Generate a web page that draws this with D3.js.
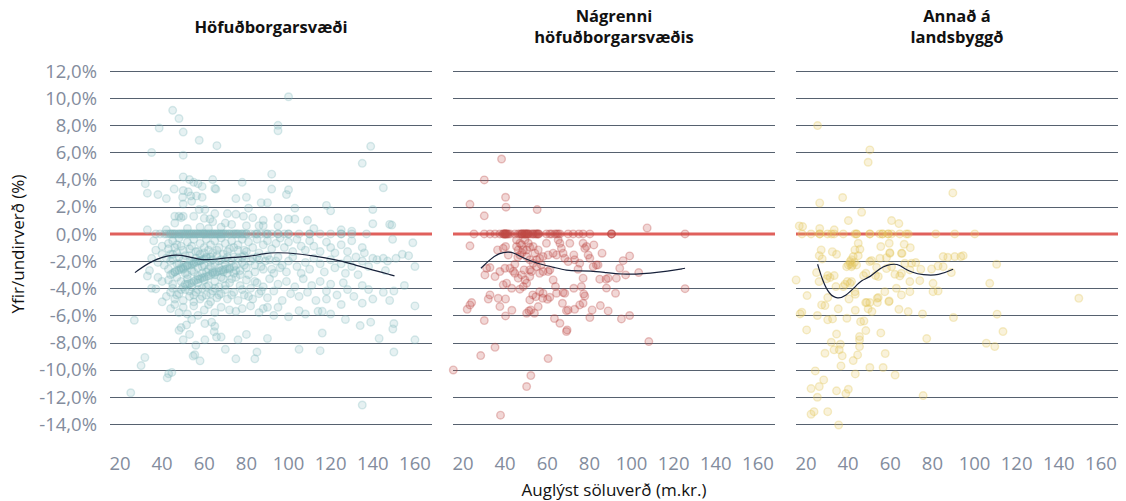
<!DOCTYPE html>
<html><head><meta charset="utf-8">
<script src="https://cdn.jsdelivr.net/npm/d3@7"></script>
<style>
html,body{margin:0;padding:0;background:#fff;}
svg{display:block;font-family:"Open Sans","Noto Sans",sans-serif;}
</style></head>
<body><svg id="chart" width="1126" height="501"></svg>
<script>
// ---------- DATA ----------
const panelTitles = [["Höfuðborgarsvæði"], ["Nágrenni","höfuðborgarsvæðis"], ["Annað á","landsbyggð"]];
const yTicks = [12,10,8,6,4,2,0,-2,-4,-6,-8,-10,-12,-14];
const xTicks = [20,40,60,80,100,120,140,160];
const yTitle = "Yfir/undirverð (%)";
const xTitle = "Auglýst söluverð (m.kr.)";

// Höfuðborgarsvæði [verð, frávik %]
const capitalPoints = [
[45,9.1],[48,8.5],[38.6,7.8],[50,7.5],[57.6,6.9],[66,6.5],[35,6.0],[50,5.8],[32,3.7],[33,3.0],[38,2.9],[42,2.6],[45.7,3.3],[50,4.2],[53,4.0],[55,3.8],[57,3.7],[59,3.5],[50,3.2],[52.4,3.1],[49.7,2.7],[53.6,2.8],[56.3,2.8],[59,2.7],[50,2.2],[54,2.4],[64,4.0],[65.5,3.3],[65,3.35],[78,3.8],[75,2.6],[80,2.7],[87,2.3],[90,2.3],[92,4.4],[92,3.3],[81,1.9],[57.6,1.8],[60.3,1.8],[46,1.3],[48,1.3],[50,1.3],[49,1.2],[55,1.3],[60,1.15],[62.7,1.1],[65,1.5],[71,1.5],[75,1.45],[78.6,1.3],[83,1.2],[64,0.9],[70,0.8],[73,0.7],[80,0.6],[86,0.6],[88,0.6],[33,0.3],[42,0.3],[46,0.8],[52,0.4],[58,0.5],[62,0.4],[68,0.5],
[100,10.1],[95,8.0],[95,7.6],[139,6.45],[135,5.2],[145,3.4],[100,3.25],[99,2.9],[103,1.9],[118,2.1],[120,1.7],[140,1.8],[95,1.2],[100,1.1],[103,1.1],[109,1.0],[95,0.6],[140,0.75],[148,0.7],[149,0.65],[88,1.0],[112,0.4],[125,0.3],[130,0.2],
[37,0],[39,0],[41,0],[42,0],[43,0],[44,0],[45,0],[46,0],[47,0],[48,0],[49,0],[50,0],[51,0],[52,0],[53,0],[54,0],[55,0],[56,0],[57,0],[58,0],[59,0],[60,0],[61,0],[62,0],[63,0],[64,0],[65,0],[66,0],[67,0],[68,0],[69,0],[70,0],[71,0],[72,0],[73,0],[74,0],[75,0],[76,0],[77,0],[78,0],[79,0],[80,0],[82,0],[84,0],[85,0],[87,0],[89,0],[90,0],[92,0],[95,0],[98,0],[100,0],[105,0],[110,0],[115,0],[120,0],[125,0],[130,0],[137,0],[50,0],[55,0],[60,0],[65,0],[45,0],[70,0],[75,0],[80,0],[110,0],[125,0],[60,0],[58,0],[52,0],
[44,0],[46,0],[48,0],[49,0],[51,0],[53,0],[54,0],[56,0],[57,0],[59,0],[61,0],[62,0],[63,0],[64,0],[66,0],[67,0],[68,0],[69,0],[72,0],[74,0],[76,0],[78,0],[85,0],[90,0],[100,0],[95,0],
[36,-0.5],[40,-0.9],[43,-1.1],[45,-0.5],[47,-0.8],[48,-0.3],[50,-1.2],[52,-0.6],[54,-0.9],[55,-0.4],[57,-1.3],[58,-0.7],[60,-1.0],[61,-0.4],[63,-0.8],[64,-1.4],[65,-0.5],[67,-1.0],[68,-0.3],[70,-0.7],[71,-1.3],[73,-0.5],[74,-1.0],[76,-0.8],[78,-0.4],[79,-1.2],[81,-0.6],[83,-1.0],[85,-0.4],[86,-1.4],[88,-0.8],[90,-0.5],[92,-1.1],[94,-0.7],[96,-0.3],[98,-1.0],[100,-0.6],[102,-1.3],[104,-0.4],[106,-0.9],[108,-1.2],[110,-0.5],[112,-0.9],[115,-1.3],[118,-0.6],[120,-1.0],[122,-1.4],[125,-0.8],[128,-1.3],[130,-0.5],[135,-1.0],[149.4,-0.4],[159,-0.65],[136,-1.4],[140,-1.8],[145,-1.8],[151,-1.8],[154,-1.5],[128,-1.9],[132,-1.7],[147,-2.0],
[35,-1.8],[37,-1.2],[38,-2.1],[40,-1.5],[41,-2.3],[42,-1.8],[43,-2.6],[44,-2.0],[45,-1.5],[46,-2.8],[47,-2.2],[48,-1.7],[49,-2.5],[50,-1.9],[51,-2.9],[52,-2.3],[53,-1.6],[54,-2.7],[55,-2.1],[56,-1.8],[57,-2.5],[58,-2.0],[59,-2.9],[60,-2.3],[61,-1.7],[62,-2.6],[63,-2.0],[64,-2.8],[65,-2.2],[66,-1.6],[67,-2.5],[68,-1.9],[69,-2.8],[70,-2.2],[71,-1.7],[72,-2.6],[73,-2.0],[74,-2.9],[75,-2.3],[76,-1.8],[77,-2.7],[78,-2.1],[79,-1.6],[80,-2.5],[82,-2.0],[84,-2.8],[85,-1.7],[87,-2.4],[89,-2.0],[90,-1.6],[92,-2.6],[94,-2.0],[95,-1.7],[97,-2.3],[99,-2.8],[100,-2.0],[102,-1.7],[104,-2.4],[106,-2.9],[108,-2.1],[110,-2.6],[112,-1.8],[115,-2.2],[117,-2.8],[120,-1.9],[122,-2.5],[125,-2.2],[127,-2.9],[130,-2.4],[133,-3.0],[135,-2.0],[138,-2.4],[142,-1.9],[146,-2.7],[157,-1.6],[160,-2.4],
[43,-0.7],[44,-1.5],[45,-1.9],[46,-1.0],[47,-1.4],[48,-2.2],[49,-0.9],[50,-2.6],[51,-1.6],[52,-3.0],[53,-1.1],[54,-2.0],[55,-2.8],[56,-1.3],[57,-3.1],[58,-1.5],[59,-2.4],[60,-1.4],[61,-2.8],[62,-1.2],[63,-2.4],[64,-1.9],[65,-3.0],[66,-1.2],[67,-2.0],[68,-3.2],[69,-1.5],[70,-1.9],[71,-2.9],[72,-1.1],[73,-3.3],[74,-1.7],[75,-2.7],[76,-1.2],[77,-3.0],[78,-1.7],[79,-2.3],[80,-1.3],[81,-3.0],[83,-1.8],[84,-2.3],[86,-1.9],[88,-2.6],[91,-1.9],[93,-2.9],[96,-2.5],
[45,-2.9],[47,-2.7],[49,-2.6],[51,-2.4],[53,-2.3],[55,-2.2],[57,-2.0],[59,-1.9],[61,-1.8],[63,-1.7],[50,-3.9],[52,-3.7],[54,-3.6],[56,-3.4],[58,-3.3],[60,-3.2],[62,-3.1],[64,-2.9],[66,-2.8],[68,-2.7],[70,-2.6],[72,-2.5],[74,-2.4],
[44,-3.0],[46,-2.8],[48,-2.65],[50,-2.5],[52,-2.35],[54,-2.25],[56,-2.1],[58,-1.95],[60,-1.85],[53,-3.65],[55,-3.5],[57,-3.35],[59,-3.25],[61,-3.15],[63,-3.0],[65,-2.85],[67,-2.75],[69,-2.65],[71,-2.55],
[33,-3.1],[34,-2.7],[35,-4.0],[37,-4.05],[38,-3.2],[40,-3.5],[40,-5.0],[42,-4.6],[43,-3.4],[44,-4.3],[45,-3.7],[46,-4.8],[47,-3.2],[48,-4.4],[49,-3.5],[50,-4.9],[51,-4.1],[52,-3.3],[53,-4.6],[54,-3.9],[55,-5.0],[56,-4.3],[57,-3.6],[58,-4.8],[59,-4.0],[60,-3.4],[61,-4.5],[62,-3.8],[63,-5.0],[64,-4.2],[65,-3.5],[66,-4.7],[67,-3.9],[68,-4.4],[69,-3.3],[70,-4.1],[71,-4.8],[72,-3.6],[74,-4.3],[75,-3.2],[76,-4.9],[77,-3.8],[79,-4.5],[80,-3.4],[82,-4.0],[83,-4.8],[85,-3.6],[86,-4.4],[88,-3.9],[90,-4.7],[91,-3.3],[93,-4.2],[95,-3.7],[97,-4.9],[99,-3.5],[101,-4.4],[103,-3.9],[105,-4.6],[107,-3.3],[109,-4.3],[111,-3.8],[113,-4.9],[115,-3.5],[118,-4.2],[120,-3.7],[123,-4.5],[126,-3.6],[128,-4.1],[131,-4.6],[135,-3.8],[138,-4.1],[140,-4.8],[145,-4.3],[150,-4.2],[155,-3.8],[148,-4.9],[160,-5.3],[135,-5.1],[125,-5.2],[116,-5.7],[114,-5.7],[108,-5.9],[105,-5.65],[93,-6.0],[90,-5.4],[88,-5.5],[118,-4.8],
[45,-4.0],[47,-4.5],[49,-4.1],[51,-3.7],[53,-4.2],[55,-4.5],[57,-4.1],[59,-4.6],[61,-3.9],[63,-4.4],[65,-4.0],[67,-4.5],[70,-3.8],[73,-4.5],[78,-4.1],[81,-4.6],[84,-3.5],[87,-4.2],
[26.8,-6.36],[48,-7.1],[49,-6.9],[50,-7.8],[53,-7.4],[54,-6.3],[51.6,-6.7],[55.5,-8.9],[56,-8.2],[58,-9.35],[54.7,-9.0],[60.3,-7.8],[60.3,-6.6],[63.5,-6.5],[65,-6.8],[64.7,-7.2],[65.8,-7.6],[68,-7.6],[70,-8.5],[76,-7.8],[80,-7.4],[75,-9.2],[84,-9.2],[85,-8.7],[90,-7.7],[44,-5.5],[46,-5.2],[48,-5.8],[50,-5.4],[52,-5.9],[55,-5.3],[57,-6.0],[60,-5.6],[62,-5.2],[65,-5.8],[68,-5.4],[72,-5.6],[75,-5.7],[78,-5.5],[82,-5.3],[86,-5.8],[95,-5.4],[105,-8.5],[115,-8.6],[150,-8.7],[143,-7.7],[160,-7.8],[116,-7.3],[134,-6.75],[139,-6.5],[150,-6.6],[149.5,-7.0],[127,-6.3],[120,-5.9],[100,-6.1],
[31.8,-9.1],[30,-9.7],[44.6,-10.2],[43.1,-10.3],[42.4,-10.6],[25.1,-11.7],[135,-12.6]
];
const capitalTrend = [[27.1,-2.85],[35,-1.95],[45.3,-1.47],[52,-1.65],[59.5,-1.96],[66,-1.85],[73.7,-1.72],[81.6,-1.67],[88,-1.45],[94.3,-1.35],[105.3,-1.47],[113,-1.65],[121.1,-1.86],[129,-2.15],[136.9,-2.53],[150.3,-3.09]];

// Nágrenni höfuðborgarsvæðis
const nearbyPoints = [
[38.3,5.52],[30.1,3.98],[23.3,2.18],[40.2,2.7],[40.4,1.97],[55.2,1.79],[30.1,1.33],[107.4,0.44],
[25.2,0],[30.1,0],[32.8,0],[35.2,0],[37.5,0],[39.1,0],[39.9,0],[40.7,0],[42.3,0],[44.6,0],[46.2,0],[47.8,0],[49.4,0],[50.2,0],[51,0],[53.3,0],[54.6,0],[55.7,0],[59.6,0],[61.2,0],[63.6,0],[64.4,0],[65.2,0],[66,0],[69.9,0],[72.3,0],[77,0],[80.2,0],[90.5,0],[125.4,0],[39,0],[40,0],[41,0],[47,0],[48,0],[49,0],[50,0],[51,0],[53,0],[55,0],[90.5,0],[39.5,0],[48.5,0],[54,0],
[40,0],[40.5,0],[41.5,0],[48,0],[49.5,0],[50.5,0],[52,0],[55.5,0],[56,0],[62,0],[75,0],[90.5,0],
[23.3,-0.88],[15.4,-10.02],[28.4,-8.96],[35.2,-8.35],[30.1,-6.38],[22,-5.55],[23.3,-5.23],[24.1,-5.06],[32,-4.79],[40.2,-4.79],[40.2,-6.04],[43.2,-5.62],[50.2,-5.84],[51.3,-5.67],[52.2,-5.6],[50.2,-11.24],[52.2,-10.43],[37.8,-13.35],[60.4,-9.18],[108.2,-7.93],
[30.4,-3.02],[32.8,-2.48],[35.2,-3.14],[37.5,-2.77],[39.9,-2.53],[39.1,-3.75],[40.7,-3.63],[43.1,-4.0],[43.9,-2.75],[44.6,-2.23],[47,-1.55],[46.2,-1.18],[45.4,-0.44],[47.8,-0.8],[49.4,-0.44],[51,-0.69],[50.2,-1.18],[51.7,-0.98],[53.3,-0.93],[54.1,-1.42],[55.7,-1.18],[56.4,-1.79],[58,-1.67],[53.3,-2.16],[54.9,-2.41],[51.7,-3.14],[49.4,-3.39],[47.8,-3.02],[48.6,-3.88],[47,-4.07],[50.2,-3.63],[52.5,-2.77],[56.4,-2.9],[58,-2.77],[60.4,-2.77],[59.6,-0.69],[60.4,-1.55],[62.8,-1.42],[64.4,-1.55],[66,-0.69],[65.2,-0.44],[66.7,-1.06],[67.5,-1.42],[68.3,-1.79],[69.9,-2.04],[70.7,-0.69],[72.6,-1.55],[73,-1.91],[74.6,-2.6],[75.4,-2.16],[77,-0.69],[77.8,-1.06],[78.6,-0.93],[79.4,-1.55],[80.2,-1.79],[82.1,-0.81],[83.3,-2.28],[86,-1.42],[84.1,-2.28],[77,-3.26],[81.8,-2.41],[88.9,-3.26],[87.9,-3.33],[92.8,-3.26],[94.4,-2.53],[96,-1.97],[97.2,-3.02],[99.1,-1.62],[103.4,-2.85],
[88.1,-3.99],[92.4,-4.37],[85.2,-5.28],[88.9,-5.67],[95.2,-6.26],[99.1,-6.01],[80.2,-6.16],[77,-5.11],[76.2,-3.88],[72.6,-4.0],[67.5,-4.32],[64.4,-4.37],[63.9,-3.88],[61.2,-4.67],[60.1,-4.81],[58,-4.37],[56.4,-4.25],[54.6,-4.62],[53.1,-4.49],[51.7,-4.86],[53.9,-5.84],[55.7,-5.35],[57.8,-4.74],[63.4,-6.23],[66,-6.58],[67.2,-5.11],[69.1,-5.65],[68.3,-4.37],[69.1,-7.19],[69.4,-7.07],[69.9,-5.6],[73,-5.55],[75.4,-5.23],[77.8,-4.57],[77.3,-4.42],[84.9,-3.33],[81.3,-5.6],
[32.8,-4.49],[31.2,-2.53],[36.4,-1.18],[39.1,-1.06],[41.5,-1.55],[42.3,-2.53],[44.6,-2.9],[46.2,-3.26],[49,-2.65],[51.7,-2.65],[54.9,-1.91],[57.2,-2.28],[61.2,-2.65],[62.8,-3.39],[40.2,-0.93],[45.4,-0.93],[47,-0.69],[48.6,-1.18],[50.2,-1.67],[51.7,-1.91],[48,-1.4],[46,-1.7],[125.4,-4.03],[36.7,-4.74],[37.5,-5.35]
];
const nearbyTrend = [[28.5,-2.53],[33,-1.85],[37,-1.42],[41.5,-1.3],[44.5,-1.4],[47.8,-1.72],[53,-2.05],[58.1,-2.28],[63,-2.45],[69.1,-2.7],[75,-2.72],[80.2,-2.72],[88,-2.85],[96,-2.97],[102,-2.97],[108.6,-2.9],[117,-2.75],[125.4,-2.53]];

// Annað á landsbyggð
const ruralPoints = [
[25.5,7.98],[50.3,6.19],[49.5,5.28],[89.7,3.02],[26.5,2.28],[37.4,2.68],[46.4,1.6],[40.1,0.98],[60.6,0.98],[64.1,0.76],[16.8,0.59],[18.4,0.54],[26.5,0.4],[33.4,0.3],
[18.1,0],[22.4,0],[26.5,0],[30.2,0],[32.1,0],[33.4,0],[37.7,0],[43.2,0],[44,0],[50.3,0],[55,0],[56.3,0],[59,0],[60.6,0],[64.5,0],[67.6,0],[68.5,0],[81.6,0],[90.6,0],[100.1,0],[26.5,0],[44,0],[50.3,0],[56.3,0],[59,0],
[27.2,-1.18],[26.3,-1.6],[27.7,-1.84],[32.5,-1.31],[34.5,-1.5],[25,-2.85],[26.2,-3.51],[15.3,-3.39],[30.3,-3.07],[31.4,-3.21],[33.4,-3.07],[29.8,-3.31],[34.2,-3.88],[37.7,-3.88],[20.5,-4.54],[18,-5.77],[17.2,-5.89],[25.4,-6.01],[27.4,-5.23],[29,-5.28],[35.3,-5.52],[30.3,-4.69],[30.3,-6.33],[32.6,-6.26],[39.4,-6.21],[34.5,-7.37],[20.3,-7.07],[32,-7.98],[36.3,-8.13],[33.3,-8.54],[35.8,-8.54],[37.2,-8.98],[29,-8.79],[36.6,-9.72],[43.4,-10.31],[42.4,-9.33],[44.5,-8.91],[24.4,-10.09],[28.4,-10.75],[26.3,-11.24],[22.4,-11.39],[25.4,-12.03],[34.5,-11.56],[38.9,-11.76],[40.1,-11.44],[23.8,-13.09],[22.4,-13.28],[30.3,-13.09],[35.5,-14.07],
[50.3,-9.84],[56.6,-9.84],[62.3,-10.39],[57.6,-8.81],[55.5,-7.29],[48.4,-7.12],[45.4,-7.56],[45.4,-7.81],[45.4,-8.3],[45.9,-6.46],[47.5,-6.41],[43.4,-5.62],[49.5,-5.52],[50.3,-5.06],[51.3,-5.72],[48.8,-5.06],[53.9,-5.06],[54.3,-4.69],[59.5,-4.94],[64.1,-5.55],[68.5,-5.72],[75.3,-5.89],[90,-6.16],[77.3,-7.71],[75.6,-11.91],
[40.4,-4.79],[48.3,-5.06],[43.2,-4.25],[43.4,-4.44],[40.9,-3.64],[39.6,-3.51],[41.6,-3.51],[38.5,-3.71],[47.3,-3.07],[48.4,-2.9],[54.3,-3.14],[50.3,-2.04],[51.1,-1.96],[55.1,-1.79],[58.2,-1.75],[59.8,-1.43],[65.3,-1.43],[66.9,-2.16],[70.1,-2.16],[72.1,-2.11],[74.5,-2.6],[79.6,-2.58],[82.7,-2.36],[85.1,-2.41],[85.1,-1.67],[87.3,-1.72],[80.3,-3.64],[80.3,-4.25],[82.7,-4.2],[69.3,-3.51],[69.3,-4.25],[65.3,-4.49],[62.9,-4.0],[59.3,-4.99],[57.4,-4.25],[53.8,-4.74],[62.2,-2.97],[64.5,-3.09],[65.3,-2.9],[69.3,-2.65],[74,-3.44],[53,-3.07],
[40.1,-2.28],[40.9,-2.04],[39.3,-2.41],[41.6,-2.41],[44,-2.28],[42.4,-1.67],[44.8,-1.6],[43.2,-1.18],[45.6,-1.13],[44.8,-0.69],[55.5,-0.93],[59.5,-0.69],[59.8,-1.38],[65.6,-1.43],[66.6,-0.76],[69.5,-1.01],[60.6,-2.41],[58.2,-2.55],[53.5,-2.46],[94.6,-1.6],[93.5,-1.67],[90.6,-1.67],[89,-2.85],[107.2,-3.64],
[110.5,-2.23],[110.7,-5.91],[105.6,-8.05],[109.6,-8.3],[113.5,-7.19],[149.5,-4.74],[41,-2.2],[42,-2.3],[43,-2.1],[41.5,-1.9]
];
const ruralTrend = [[25.5,-2.23],[28,-3.5],[31,-4.45],[35,-4.81],[39,-4.55],[43,-3.95],[46.4,-3.39],[50.3,-3.21],[55,-2.53],[58.5,-2.3],[62.1,-2.2],[64.5,-2.3],[66.4,-2.53],[70.5,-2.85],[75.3,-3.02],[83,-3.07],[89.8,-2.6]];

const pointColors = ["#80b8bc","#bf4a46","#e3c65a"];
const fillOpacity = [0.2, 0.22, 0.22];
const strokeOpacity = [0.3, 0.32, 0.32];

// ---------- LAYOUT ----------
const svg = d3.select("#chart");
const panelLefts = [110, 453, 796];
const panelW = 322;
const yTop = 71, yBottom = 424;
const y = d3.scaleLinear().domain([-14,12]).range([yBottom, yTop]);

const panels = [
  {pts: capitalPoints, trend: capitalTrend},
  {pts: nearbyPoints, trend: nearbyTrend},
  {pts: ruralPoints, trend: ruralTrend}
];

const fmt = v => v.toFixed(1).replace(".", ",") + "%";

// Y tick labels
svg.append("g").selectAll("text").data(yTicks).join("text")
  .attr("x", 97).attr("y", d => y(d)).attr("dy", "0.36em")
  .attr("text-anchor", "end").attr("fill", "#838c9d")
  .attr("font-size", 18.5).text(fmt);

panels.forEach((p, i) => {
  const left = panelLefts[i];
  const x = d3.scaleLinear().domain([15.25, 168.1]).range([left, left + panelW]);
  const g = svg.append("g");

  // gridlines
  g.selectAll("line.grid").data(yTicks.filter(d => d !== 0)).join("line")
    .attr("x1", left).attr("x2", left + panelW)
    .attr("y1", d => Math.round(y(d)) + 0.5).attr("y2", d => Math.round(y(d)) + 0.5)
    .attr("stroke", "#56616f").attr("stroke-width", 1.1);

  // zero line
  g.append("line")
    .attr("x1", left).attr("x2", left + panelW)
    .attr("y1", y(0)).attr("y2", y(0))
    .attr("stroke", "#e0605c").attr("stroke-width", 3);

  // points
  g.append("g").selectAll("circle").data(p.pts).join("circle")
    .attr("cx", d => x(d[0])).attr("cy", d => y(d[1])).attr("r", 3.8)
    .attr("fill", pointColors[i]).attr("fill-opacity", fillOpacity[i])
    .attr("stroke", pointColors[i]).attr("stroke-opacity", strokeOpacity[i]).attr("stroke-width", 1.4);

  // trend line
  g.append("path").datum(p.trend)
    .attr("fill", "none").attr("stroke", "#17213a").attr("stroke-width", 1.2)
    .attr("d", d3.line().x(d => x(d[0])).y(d => y(d[1])).curve(d3.curveBasis));

  // x tick labels
  g.selectAll("text.xt").data(xTicks).join("text")
    .attr("x", d => x(d)).attr("y", 470)
    .attr("text-anchor", "middle").attr("fill", "#838c9d")
    .attr("font-size", 18.5).text(d => d);

  // title
  const lines = panelTitles[i];
  const cx = left + panelW / 2;
  const t = g.append("text").attr("text-anchor", "middle")
    .attr("font-weight", "bold").attr("font-size", 16.5).attr("fill", "#111");
  const baseY = lines.length === 1 ? 33 : 22;
  lines.forEach((ln, k) => {
    t.append("tspan").attr("x", cx).attr("y", baseY + k * 21).text(ln);
  });
});

// axis titles
svg.append("text").attr("transform", "translate(24,244) rotate(-90)")
  .attr("text-anchor", "middle").attr("font-size", 17).attr("fill", "#111").text(yTitle);
svg.append("text").attr("x", 614).attr("y", 496)
  .attr("text-anchor", "middle").attr("font-size", 17).attr("fill", "#111").text(xTitle);
</script></body></html>
